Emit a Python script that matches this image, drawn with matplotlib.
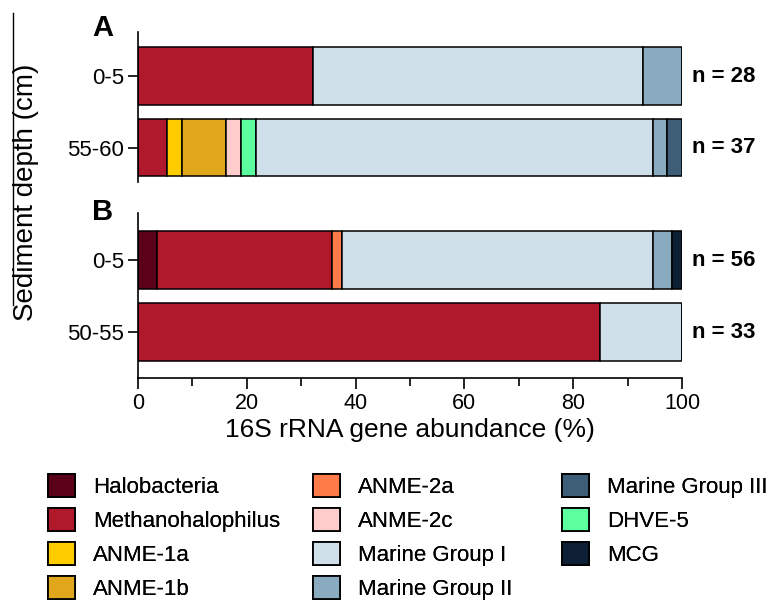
import numpy as np
import matplotlib.pyplot as plt
from matplotlib.patches import Patch
from matplotlib.lines import Line2D

plt.rcParams['font.family'] = ['Liberation Sans', 'DejaVu Sans']

# taxa in legend order
taxa = ['Halobacteria', 'Methanohalophilus', 'ANME-1a', 'ANME-1b',
        'ANME-2a', 'ANME-2c', 'Marine Group I', 'Marine Group II',
        'Marine Group III', 'DHVE-5', 'MCG']
colors = ['#5a0018', '#b0182b', '#ffcc00', '#e0a61c',
          '#ff7b47', '#ffcccc', '#d0e0ea', '#8aaac0',
          '#3e5e78', '#5cff9e', '#0e2036']
# order the segments are stacked from left to right
stack_order = ['Halobacteria', 'Methanohalophilus', 'ANME-1a', 'ANME-1b',
               'ANME-2a', 'ANME-2c', 'DHVE-5', 'Marine Group I',
               'Marine Group II', 'Marine Group III', 'MCG']

# panel A: clone counts per taxon
a_depths = ['0-5', '55-60']
a_counts = {
    'Methanohalophilus': [9, 2],
    'ANME-1a': [0, 1],
    'ANME-1b': [0, 3],
    'ANME-2c': [0, 1],
    'DHVE-5': [0, 1],
    'Marine Group I': [17, 27],
    'Marine Group II': [2, 1],
    'Marine Group III': [0, 1],
}
a_n = [28, 37]

# panel B
b_depths = ['0-5', '50-55']
b_counts = {
    'Halobacteria': [2, 0],
    'Methanohalophilus': [18, 28],
    'ANME-2a': [1, 0],
    'Marine Group I': [32, 5],
    'Marine Group II': [2, 0],
    'MCG': [1, 0],
}
b_n = [56, 33]

color_of = dict(zip(taxa, colors))

fig = plt.figure(figsize=(7.7, 6.0), dpi=100)
W, H = 770, 600


def px_axes(left, top, right, bottom):
    return fig.add_axes([left / W, 1 - bottom / H, (right - left) / W, (bottom - top) / H])


def draw_panel(ax, depths, counts, ns, ylim):
    y = np.arange(len(depths))
    left = np.zeros(len(depths))
    for name in stack_order:
        if name not in counts:
            continue
        pct = 100 * np.array(counts[name]) / np.array(ns)
        ax.barh(y, pct, left=left, height=0.8, color=color_of[name],
                edgecolor='black', linewidth=1.1)
        left += pct
    for yi, n in zip(y, ns):
        ax.text(101.8, yi, f'n = {n}', ha='left', va='center',
                fontsize=16, fontweight='bold', clip_on=False)
    ax.set_xlim(0, 100)
    ax.set_ylim(*ylim)
    ax.set_yticks(y)
    ax.set_yticklabels(depths, fontsize=16)
    ax.tick_params(axis='y', length=7, width=1.2, pad=3)
    for s in ['top', 'right']:
        ax.spines[s].set_visible(False)
    ax.spines['left'].set_linewidth(1.2)


axA = px_axes(138, 32, 682, 182)
draw_panel(axA, a_depths, a_counts, a_n, (1.48, -0.615))
axA.spines['bottom'].set_visible(False)
axA.set_xticks([])

axB = px_axes(138, 213, 682, 378)
draw_panel(axB, b_depths, b_counts, b_n, (1.63, -0.65))
axB.spines['bottom'].set_linewidth(1.2)
axB.set_xticks(np.arange(0, 101, 20))
axB.set_xticks(np.arange(10, 100, 20), minor=True)
axB.tick_params(axis='x', which='major', length=8, width=1.2, labelsize=15.5, pad=3)
axB.tick_params(axis='x', which='minor', length=6, width=1.2)
axB.set_xlabel('16S rRNA gene abundance (%)', fontsize=19, labelpad=3)

fig.text(103 / W, 1 - 28 / H, 'A', fontsize=21, fontweight='bold', ha='center', va='center')
fig.text(103 / W, 1 - 212 / H, 'B', fontsize=21, fontweight='bold', ha='center', va='center')

fig.text(26 / W, 1 - 192 / H, 'Sediment depth (cm)', rotation=90, fontsize=20,
         ha='center', va='center')
fig.add_artist(Line2D([13 / W, 13 / W], [1 - 13 / H, 1 - 305 / H],
                      transform=fig.transFigure, color='black', linewidth=1))

# legend: three columns placed at fixed x positions
handles = [Patch(facecolor=c, edgecolor='black', linewidth=1.3) for c in colors]
col_slices = [(0, 4), (4, 8), (8, 11)]
col_x = [48, 313, 562]
for (i0, i1), x in zip(col_slices, col_x):
    leg = fig.legend(handles[i0:i1], taxa[i0:i1], frameon=False, loc='upper left',
                     bbox_to_anchor=(x / W, 1 - 474 / H), fontsize=16,
                     handlelength=1.22, handleheight=1.22, handletextpad=0.8,
                     labelspacing=0.45, borderpad=0, borderaxespad=0)
    fig.add_artist(leg)

fig.savefig('out.png', dpi=100)
